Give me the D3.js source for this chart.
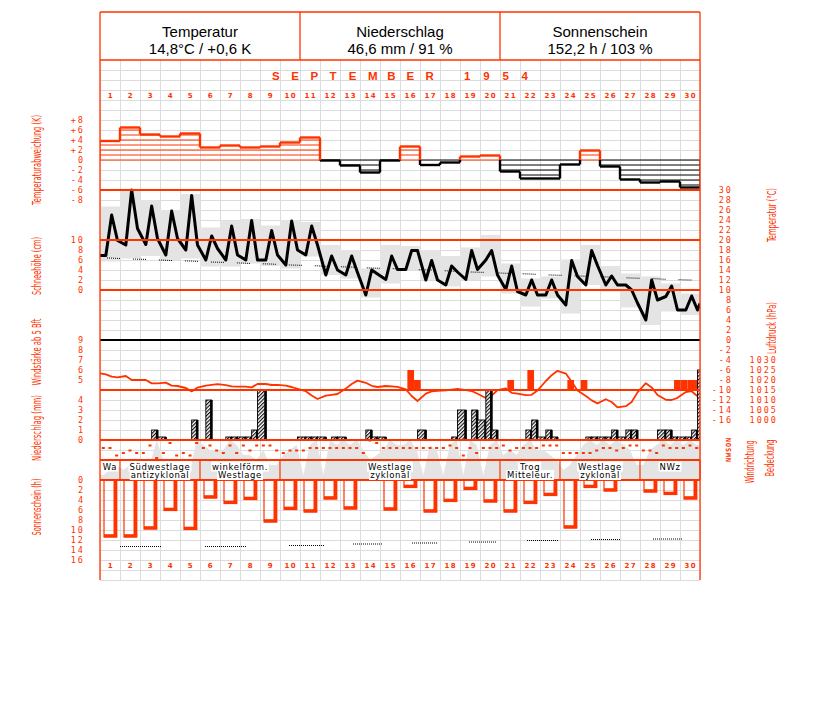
<!DOCTYPE html>
<html><head><meta charset="utf-8">
<script src="https://cdn.jsdelivr.net/npm/d3@7/dist/d3.min.js"></script>
<style>
body{margin:0;background:#fff;}
svg{display:block;}
</style></head><body>
<svg id="chart" width="827" height="702"></svg>
<script>
// ---------------- DATA ----------------
const headerTitles = ["Temperatur","Niederschlag","Sonnenschein"];
const headerValues = ["14,8°C / +0,6 K","46,6 mm / 91 %","152,2 h / 103 %"];
const monthTitle = "SEPTEMBER 1954";
const dayNums = d3.range(1,31);

// daily mean temperature anomaly (K)
const anomaly = [3.8,6.5,5.1,4.7,5.3,2.5,2.9,2.5,2.7,3.5,4.5,-0.1,-1.1,-2.5,-0.1,2.7,-1.0,-0.5,0.7,0.9,-2.3,-3.7,-3.7,-0.9,1.9,-1.3,-3.9,-4.5,-4.3,-5.5];

// temperature observations 7h, 14h, 21h (°C)
const obsHours = [7,14,21];
const tempStart = 16.9, tempEnd = 7.3;
const tempObs = [
 [16.9,25.0,19.9],[19.0,30.0,22.3],[19.1,26.8,20.3],[17.0,25.8,20.3],[18.0,28.9,19.0],
 [16.0,20.8,18.3],[16.0,22.8,17.0],[16.0,23.9,16.0],[16.0,21.9,17.0],[15.0,23.8,18.0],
 [17.0,22.8,19.0],[13.0,16.8,14.0],[13.0,16.8,13.5],[9.0,14.0,13.2],[12.1,16.8,14.1],
 [14.1,17.9,17.9],[12.0,15.9,12.0],[11.0,14.8,13.6],[12.1,17.9,14.1],[16.0,17.9,13.0],
 [10.1,14.8,9.7],[9.0,12.0,9.0],[9.0,12.0,9.0],[7.0,15.9,12.7],[11.0,17.9,14.9],
 [11.0,12.8,11.0],[11.0,10.0,7.4],[4.0,12.0,8.0],[8.7,10.8,6.0],[6.0,8.8,6.0]];
const tempMax = [26.7,30.0,28.0,26.0,29.2,22.5,23.9,24.2,22.9,24.0,23.6,19.0,18.0,14.3,19.0,18.8,18.0,16.8,18.5,21.0,15.3,12.3,12.7,16.1,19.0,14.8,13.3,12.7,11.3,9.3];
const tempMin = [15.7,16.3,16.8,16.0,16.3,14.7,14.7,15.3,14.8,14.3,16.7,13.0,12.3,8.5,11.3,14.0,12.0,10.7,12.0,12.7,9.3,6.7,8.3,5.3,11.0,9.7,6.5,3.0,5.7,5.0];
// long-term normal of the daily mean (°C)
const normTemp = [16.4,16.2,16.1,15.9,15.8,15.6,15.5,15.3,15.2,15.0,14.9,14.7,14.6,14.4,14.3,14.1,14.0,13.8,13.6,13.5,13.3,13.2,13.0,12.9,12.7,12.6,12.4,12.3,12.1,12.0];

// air pressure 7h,14h,21h (hPa)
const presStart = 1023.3, presEnd = 1013.0;
const pressure = [
 [1022.8,1021.7,1021.3],[1022.0,1020.0,1020.0],[1020.0,1018.3,1018.3],[1018.7,1017.2,1017.0],[1016.0,1014.3,1016.2],
 [1017.2,1017.6,1017.9],[1017.4,1016.8,1016.7],[1016.7,1016.3,1018.0],[1018.0,1017.5,1017.6],[1017.2,1016.5,1015.6],
 [1014.4,1012.3,1010.5],[1012.2,1012.6,1013.0],[1015.7,1018.0,1019.7],[1018.6,1017.1,1016.5],[1017.0,1016.8,1016.6],
 [1015.3,1012.0,1009.5],[1013.2,1014.3,1014.6],[1014.8,1015.2,1015.6],[1014.9,1014.5,1013.1],[1011.0,1012.2,1014.9],
 [1015.8,1013.6,1013.2],[1012.4,1012.6,1014.7],[1019.5,1022.4,1024.6],[1023.2,1019.1,1014.8],[1012.0,1009.8,1008.3],
 [1010.4,1009.0,1006.3],[1006.9,1009.0,1013.8],[1018.4,1016.3,1012.5],[1010.1,1010.0,1011.1],[1014.0,1014.4,1011.9]];

// wind force (Bft) per observation, 0 = below 5 Bft
const windBft = [
 [0,0,0],[0,0,0],[0,0,0],[0,0,0],[0,0,0],[0,0,0],[0,0,0],[0,0,0],[0,0,0],[0,0,0],
 [0,0,0],[0,0,0],[0,0,0],[0,0,0],[0,0,0],[0,6,5],[0,0,0],[0,0,0],[0,0,0],[0,0,0],
 [0,5,0],[0,6,0],[0,0,0],[0,5,0],[5,0,0],[0,0,0],[0,0,0],[0,0,0],[0,0,5],[5,5,5]];

// precipitation (mm) for periods 7-14h, 14-21h, 21-7h
const precipPeriods = [[7,14],[14,21],[21,31]];
const precip = [
 [0,0,0],[0,0,0],[0,1.0,0.3],[0,0,0],[0,2.0,0],[4.0,0,0],[0.3,0.3,0.3],[0.3,1.0,5.0],[0,0,0],[0,0,0.3],
 [0.3,0.3,0.3],[0,0.3,0.3],[0,0,0],[1.0,0.3,0.3],[0,0,0],[0,0,1.0],[0,0,0],[0,0.3,3.0],[0,3.0,2.0],[5.0,1.0,0],
 [0,0,0],[1.0,2.0,0.3],[1.0,0.3,0],[0,0,0],[0.3,0.3,0.3],[0.3,1.0,0.3],[1.0,1.0,0],[0,0,1.0],[1.0,0.3,0.3],[0.3,1.0,7.0]];

// wind direction (degrees) per observation
const windDir = [
 [135,135,270],[225,180,225],[225,90,315],[225,45,270],[225,270,45],[135,90,180],[225,90,225],[90,180,90],[90,90,180],[225,180,180],
 [180,135,135],[135,135,135],[135,135,135],[225,0,45],[135,135,135],[135,135,135],[135,135,135],[135,90,135],[270,135,225],[135,135,135],
 [90,180,135],[135,135,135],[90,90,90],[225,225,225],[225,225,180],[135,135,180],[135,90,90],[180,180,225],[90,135,135],[135,90,135]];

// cloud cover (octas) per observation
const cover = [
 [1,2,3],[2,3,2],[2,3,8],[4,2,2],[2,2,8],[7,6,6],[6,8,7],[5,5,4],[6,3,3],[5,6,7],
 [1,7,8],[1,8,7],[8,7,8],[6,4,5],[6,8,7],[7,8,6],[1,7,6],[1,7,8],[1,8,7],[1,7,8],
 [5,6,5],[7,8,6],[6,5,4],[2,3,5],[7,8,7],[8,7,8],[7,6,3],[3,6,7],[8,7,8],[7,8,7]];

// sunshine duration (h)
const sunshine = [11.4,11.4,9.8,6.1,9.9,3.6,4.7,3.9,8.4,5.9,6.4,3.8,5.8,0,6.0,1.5,6.4,4.3,1.9,4.4,6.4,4.7,3.1,9.6,1.5,2.2,0,2.4,2.9,3.8];
// astronomically possible sunshine (h) over spans of the month [fromDay, toDay, hours]
const dayLength = [[1.0,3.1,13.3],[5.25,7.35,13.3],[9.45,11.2,13.1],[12.65,14.1,12.8],[15.6,16.9,12.6],[18.45,19.8,12.4],[21.35,22.9,12.1],[24.55,26.0,11.9],[27.65,29.15,11.8]];

// weather types (Großwetterlagen)
const weatherTypes = [
 {from:1,to:1,label:["Wa"]},
 {from:2,to:5,label:["Südwestlage","antizyklonal"]},
 {from:6,to:9,label:["winkelförm.","Westlage"]},
 {from:10,to:20,label:["Westlage","zyklonal"]},
 {from:21,to:23,label:["Trog","Mitteleur."]},
 {from:24,to:27,label:["Westlage","zyklonal"]},
 {from:28,to:30,label:["NWz"]}];

// tick labels
const anomTicks = [8,6,4,2,0,-2,-4,-6,-8];
const snowTicks = [10,8,6,4,2,0];
const windTicks = [9,8,7,6,5];
const precTicks = [4,3,2,1,0];
const sunTicks = [0,2,4,6,8,10,12,14,16];
const tempTicks = d3.range(30,-17,-2);
const presTicks = [1030,1025,1020,1015,1010,1005,1000];
const dirTicks = [[0,"N"],[90,"O"],[180,"S"],[270,"W"],[360,"N"]];

// ---------------- STYLE ----------------
const RED = "#ff3300", GRID = "#dcdcdc", GRAYF = "#e4e4e4";
const NUMFONT = "'DejaVu Sans Mono', monospace";
const TFONT = "'Liberation Sans Narrow','DejaVu Sans Condensed',sans-serif";

// ---------------- SCALES ----------------
const x = d3.scaleLinear().domain([0,30]).range([100,700]);
const yAnom = d3.scaleLinear().domain([-8,8]).range([200,120]);
const yTemp = d3.scaleLinear().domain([-16,30]).range([420,190]);
const ySnow = d3.scaleLinear().domain([0,10]).range([290,240]);
const yWind = d3.scaleLinear().domain([4,9]).range([390,340]);
const yPres = d3.scaleLinear().domain([1000,1030]).range([420,360]);
const yPrec = d3.scaleLinear().domain([0,4]).range([440,400]);
const yDir = d3.scaleLinear().domain([0,360]).range([440,460]);
const yCover = d3.scaleLinear().domain([0,8]).range([480,440]);
const ySun = d3.scaleLinear().domain([0,16]).range([480,560]);
const tx = (d,h) => x(d + h/24);          // day index d (0-based) + hour
const slot = (d,i) => x(d + i/3);          // thirds of a day

const svg = d3.select("#chart");
svg.append("defs").html(`
 <pattern id="hatch" patternUnits="userSpaceOnUse" width="2.6" height="2.6" patternTransform="rotate(45)">
  <rect width="2.6" height="2.6" fill="#fff"/>
  <line x1="0.6" y1="0" x2="0.6" y2="2.6" stroke="#000" stroke-width="1.1"/>
 </pattern>
 <clipPath id="plot"><rect x="100" y="60" width="600" height="520"/></clipPath>`);

// ---------------- GRID ----------------
const grid = svg.append("g").attr("stroke",GRID).attr("stroke-width",1).attr("shape-rendering","crispEdges");
d3.range(0,31).forEach(d => grid.append("line").attr("x1",x(d)).attr("x2",x(d)).attr("y1",60).attr("y2",580));
d3.range(70,581,10).forEach(y => grid.append("line").attr("x1",100).attr("x2",700).attr("y1",y).attr("y2",y));

const plot = svg.append("g").attr("clip-path","url(#plot)");

// white band for weather types
plot.append("rect").attr("x",100).attr("y",yCover(4)).attr("width",600).attr("height",yCover(0)-yCover(4)).attr("fill","#fff");

// ---------------- GRAY FILLS ----------------
plot.selectAll(".trange").data(dayNums).join("rect")
 .attr("x",(d,i)=>x(i)).attr("width",(d,i)=>x(i+1)-x(i))
 .attr("y",(d,i)=>yTemp(tempMax[i])).attr("height",(d,i)=>yTemp(tempMin[i])-yTemp(tempMax[i]))
 .attr("fill",GRAYF);

const coverPts = [[x(0), cover[0][0]]];
cover.forEach((c,d)=>c.forEach((v,i)=>coverPts.push([slot(d,i+0.5), v])));
coverPts.push([x(30), cover[29][2]]);
plot.append("path").datum(coverPts)
 .attr("d", d3.area().x(p=>p[0]).y0(yCover(0)).y1(p=>yCover(p[1])))
 .attr("fill",GRAYF);

// ---------------- REFERENCE LINES ----------------
const refRed = [yTemp(30),yTemp(20),yTemp(10),yTemp(-10),yPrec(0),yCover(4),yCover(0)];
refRed.forEach(y => svg.append("line").attr("x1",100).attr("x2",700).attr("y1",y).attr("y2",y)
  .attr("stroke",RED).attr("stroke-width",1.2).attr("shape-rendering","crispEdges"));
svg.append("line").attr("x1",100).attr("x2",700).attr("y1",yTemp(0)).attr("y2",yTemp(0))
  .attr("stroke","#000").attr("stroke-width",1.2).attr("shape-rendering","crispEdges");

// ---------------- ANOMALY BARS ----------------
const ga = plot.append("g");
anomaly.forEach((v,i)=>{
  const col = v>=0 ? RED : "#000", s = v>=0 ? 1 : -1;
  const n = Math.floor(Math.abs(v));
  for(let k=0;k<=n;k++){
    ga.append("line").attr("x1",x(i)).attr("x2",x(i+1)).attr("y1",yAnom(s*k)).attr("y2",yAnom(s*k))
      .attr("stroke",col).attr("stroke-width",1);
  }
  ga.append("line").attr("x1",x(i)).attr("x2",x(i+1)).attr("y1",yAnom(v)).attr("y2",yAnom(v))
    .attr("stroke",col).attr("stroke-width",2.4);
});
for(let b=0;b<=30;b++){
  const a = b>0 ? anomaly[b-1] : 0, c = b<30 ? anomaly[b] : 0;
  const lo = Math.min(a,c), hi = Math.max(a,c);
  const w = (b===0||b===30) ? 1 : 2.4;
  if (hi>0 && Math.max(lo,0)<hi) ga.append("line").attr("x1",x(b)).attr("x2",x(b))
     .attr("y1",yAnom(Math.max(lo,0))).attr("y2",yAnom(hi)).attr("stroke",RED).attr("stroke-width",w);
  if (lo<0 && lo<Math.min(hi,0)) ga.append("line").attr("x1",x(b)).attr("x2",x(b))
     .attr("y1",yAnom(lo)).attr("y2",yAnom(Math.min(hi,0))).attr("stroke","#000").attr("stroke-width",w);
}

// ---------------- TEMPERATURE ----------------
const normPts = [[0,normTemp[0]]].concat(normTemp.map((v,i)=>[i+0.5,v])).concat([[30,normTemp[29]]]);
plot.append("path").datum(normPts)
 .attr("d", d3.line().x(p=>x(p[0])).y(p=>yTemp(p[1])))
 .attr("fill","none").attr("stroke","#000").attr("stroke-width",1)
 .attr("stroke-dasharray","1,1,1,1,1,1,1,1,1,1,1,1,1,13").attr("stroke-dashoffset",19);

const tPts = [[x(0),tempStart]];
tempObs.forEach((o,d)=>o.forEach((v,i)=>tPts.push([tx(d,obsHours[i]),v])));
tPts.push([x(30),tempEnd]);
plot.append("path").datum(tPts)
 .attr("d", d3.line().x(p=>p[0]).y(p=>yTemp(p[1])))
 .attr("fill","none").attr("stroke","#000").attr("stroke-width",3).attr("stroke-linejoin","round");

// ---------------- WIND BARS ----------------
windBft.forEach((o,d)=>o.forEach((v,i)=>{
  if(v>=5) plot.append("rect").attr("x",slot(d,i)+0.7).attr("width",slot(d,i+1)-slot(d,i))
    .attr("y",yWind(v)).attr("height",yWind(4)-yWind(v)).attr("fill",RED);
}));

// ---------------- PRESSURE ----------------
const pPts = [[x(0),presStart]];
pressure.forEach((o,d)=>o.forEach((v,i)=>pPts.push([tx(d,obsHours[i]),v])));
pPts.push([x(30),presEnd]);
plot.append("path").datum(pPts)
 .attr("d", d3.line().x(p=>p[0]).y(p=>yPres(p[1])))
 .attr("fill","none").attr("stroke",RED).attr("stroke-width",1.8).attr("stroke-linejoin","round");

// ---------------- PRECIPITATION ----------------
precip.forEach((o,d)=>o.forEach((v,i)=>{
  if(v<=0) return;
  const x0 = tx(d,precipPeriods[i][0]), x1 = tx(d,precipPeriods[i][1]);
  plot.append("rect").attr("x",x0).attr("width",x1-x0).attr("y",yPrec(v)).attr("height",yPrec(0)-yPrec(v))
    .attr("fill","url(#hatch)").attr("stroke","#000").attr("stroke-width",0.9);
  plot.append("rect").attr("x",x1-1.6).attr("width",2.6).attr("y",yPrec(v)).attr("height",yPrec(0)-yPrec(v))
    .attr("fill","#000");
}));

// ---------------- WIND DIRECTION ----------------
windDir.forEach((o,d)=>o.forEach((v,i)=>{
  plot.append("rect").attr("x",slot(d,i+0.5)-1.5).attr("width",3).attr("y",yDir(v)-0.5).attr("height",2).attr("fill",RED);
}));

// ---------------- WEATHER TYPES ----------------
const gw = svg.append("g");
weatherTypes.forEach(w=>{
  const cx = (x(w.from-1)+x(w.to))/2;
  w.label.forEach((l,j)=>{
    const t = gw.append("text").attr("x",cx).attr("y",469.5+j*8.5).attr("text-anchor","middle")
      .style("font-family","'DejaVu Sans',sans-serif").style("font-size","8.5px").style("letter-spacing","0.6px")
      .attr("fill","#000").text(l);
    const bb = t.node().getBBox();
    gw.insert("rect","text").attr("x",bb.x-1).attr("y",bb.y).attr("width",bb.width+2).attr("height",bb.height).attr("fill","#fff");
  });
  gw.append("line").attr("x1",x(w.to)).attr("x2",x(w.to)).attr("y1",yCover(4)).attr("y2",yCover(0))
    .attr("stroke",RED).attr("stroke-width",1.2);
});
gw.selectAll("rect").lower();

// ---------------- SUNSHINE ----------------
sunshine.forEach((v,i)=>{
  if(v<=0) return;
  const x0 = x(i+0.2), x1 = x(i+0.835), yb = ySun(v);
  plot.append("rect").attr("x",x0).attr("y",ySun(0)).attr("width",x1-x0).attr("height",yb-ySun(0))
    .attr("fill","none").attr("stroke",RED).attr("stroke-width",1.2);
  plot.append("rect").attr("x",x1-3.2).attr("y",ySun(0)).attr("width",3.6).attr("height",yb-ySun(0)).attr("fill",RED);
  plot.append("rect").attr("x",x0).attr("y",yb-2.8).attr("width",x1-x0+0.4).attr("height",3.2).attr("fill",RED);
});
dayLength.forEach(s=>{
  plot.append("line").attr("x1",x(s[0])).attr("x2",x(s[1])).attr("y1",ySun(s[2])).attr("y2",ySun(s[2]))
    .attr("stroke","#000").attr("stroke-width",1).attr("stroke-dasharray","1,1");
});

// ---------------- FRAME & HEADER ----------------
const fr = svg.append("g").attr("stroke",RED).attr("stroke-width",1.3).attr("fill","none");
fr.append("line").attr("x1",100).attr("x2",700).attr("y1",12).attr("y2",12);
fr.append("line").attr("x1",100).attr("x2",700).attr("y1",60).attr("y2",60);
fr.append("line").attr("x1",100).attr("x2",100).attr("y1",12).attr("y2",580);
fr.append("line").attr("x1",700).attr("x2",700).attr("y1",12).attr("y2",580);
[300,500].forEach(xx=>fr.append("line").attr("x1",xx).attr("x2",xx).attr("y1",12).attr("y2",60));

headerTitles.forEach((t,i)=>{
  const cx = 200 + i*200;
  svg.append("text").attr("x",cx).attr("y",37).attr("text-anchor","middle")
    .style("font-family","'Liberation Sans',Arial,sans-serif").style("font-size","15px").text(t);
  svg.append("text").attr("x",cx).attr("y",54).attr("text-anchor","middle")
    .style("font-family","'Liberation Sans',Arial,sans-serif").style("font-size","15px").text(headerValues[i]);
});

// month title, one glyph per column of an even pitch
const titleChars = monthTitle.split("");
svg.selectAll(null).data(titleChars).join("text")
  .attr("x",(c,i)=>272+i*19.2).attr("y",79.5)
  .style("font-family","'Liberation Sans',Arial,sans-serif").style("font-size","11.5px").style("font-weight","bold")
  .attr("fill",RED).text(c=>c);

[98,568].forEach(yy=>{
  svg.selectAll(null).data(dayNums).join("text")
    .attr("x",(d,i)=>x(i+0.5)+0.7).attr("y",yy).attr("text-anchor","middle")
    .style("font-family","'DejaVu Sans',sans-serif").style("font-size","7px").style("font-weight","bold")
    .style("letter-spacing","1.2px").attr("fill",RED).text(d=>d);
});

// ---------------- AXIS LABELS ----------------
function labels(scale, values, xPos, fmt, size){
  const ax = d3.axisLeft(scale).tickValues(values).tickSize(0).tickPadding(0).tickFormat(fmt);
  const g = svg.append("g").attr("transform",`translate(${xPos},0)`).call(ax);
  g.select(".domain").remove();
  g.selectAll("text").attr("fill",RED).attr("dx","2px")
   .style("font-family",NUMFONT).style("font-size",(size||8.5)+"px").style("letter-spacing","2px");
  return g;
}
labels(yAnom, anomTicks, 83, v => v>0 ? "+"+v : String(v));
labels(ySnow, snowTicks, 83, String);
labels(yWind, windTicks, 83, String);
labels(yPrec, precTicks, 83, String);
labels(ySun, sunTicks, 83, String);
labels(yTemp, tempTicks, 731, String);
labels(yPres, presTicks, 776, String);

dirTicks.forEach(t=>{
  svg.append("text").attr("transform",`translate(731,${yDir(t[0])}) rotate(-90)`).attr("text-anchor","middle")
   .style("font-family",NUMFONT).style("font-size","7px").style("font-weight","bold").attr("fill",RED).text(t[1]);
});

function vtitle(t, xx, yy, len){
  svg.append("text").attr("transform",`translate(${xx},${yy}) rotate(-90)`).attr("text-anchor","middle")
   .attr("textLength",len).attr("lengthAdjust","spacingAndGlyphs")
   .style("font-family",TFONT).style("font-size","13px").attr("fill",RED).text(t);
}
vtitle("Temperaturabweichung (K)",41,160,90);
vtitle("Schneehöhe (cm)",41,266,58);
vtitle("Windstärke ab 5 Bft",41,352,67);
vtitle("Niederschlag (mm)",41,428,66);
vtitle("Sonnenschein (h)",41,507,57);
vtitle("Temperatur (°C)",776,215,54);
vtitle("Luftdruck (hPa)",776,328,52);
vtitle("Windrichtung",754,462,43);
vtitle("Bedeckung",774,458,37);
</script>
</body></html>
